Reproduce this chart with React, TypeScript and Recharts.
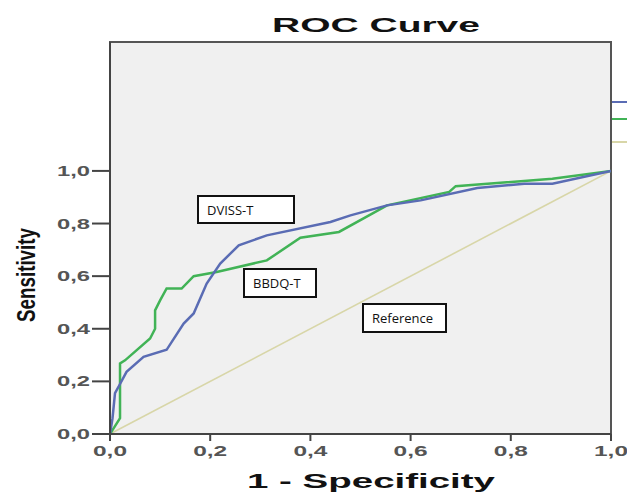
import React from "react";
import { Line, LineChart, ReferenceArea, XAxis, YAxis } from "recharts";

// 1 - specificity (x) and sensitivity (y)
const dvissX = [0, 0.005, 0.01, 0.02, 0.033, 0.067, 0.113, 0.147, 0.167, 0.193, 0.22, 0.257, 0.313, 0.44, 0.48, 0.553, 0.62, 0.733, 0.827, 0.883, 1];
const dvissY = [0, 0.06, 0.155, 0.19, 0.236, 0.293, 0.32, 0.42, 0.458, 0.572, 0.648, 0.717, 0.755, 0.806, 0.831, 0.869, 0.888, 0.935, 0.951, 0.951, 1];

const bbdqX = [0, 0.01, 0.02, 0.02, 0.03, 0.08, 0.09, 0.09, 0.1, 0.113, 0.143, 0.167, 0.213, 0.313, 0.38, 0.457, 0.553, 0.677, 0.69, 0.883, 1];
const bbdqY = [0, 0.03, 0.06, 0.268, 0.28, 0.363, 0.4, 0.47, 0.508, 0.553, 0.553, 0.6, 0.616, 0.66, 0.746, 0.768, 0.869, 0.92, 0.942, 0.97, 1];

const refX = [0, 1];
const refY = [0, 1];

const xTicks = [0, 0.2, 0.4, 0.6, 0.8, 1];
const yTicks = [0, 0.2, 0.4, 0.6, 0.8, 1];

const toPoints = (xs: number[], ys: number[]) => xs.map((x, i) => ({ x, y: ys[i] }));

const fmt = (v: number) => v.toFixed(1).replace(".", ",");

const FONT = "Liberation Sans, Arial, sans-serif";
const BLUE = "#5a6cb4";
const GREEN = "#41b356";
const TAN = "#d8d6a8";

function XTick(props: any) {
  const { x, y, payload } = props;
  return (
    <text x={x} y={y + 13} textAnchor="middle" fontFamily={FONT} fontWeight="bold" fontSize={14} fill="#555" textLength={34} lengthAdjust="spacingAndGlyphs">
      {fmt(payload.value)}
    </text>
  );
}

function YTick(props: any) {
  const { x, y, payload } = props;
  return (
    <text x={x - 2} y={y + 5} textAnchor="end" fontFamily={FONT} fontWeight="bold" fontSize={14} fill="#555" textLength={33} lengthAdjust="spacingAndGlyphs">
      {fmt(payload.value)}
    </text>
  );
}

function Tag(props: { text: string; left: number; top: number; width: number; height: number }) {
  return (
    <div
      style={{
        position: "absolute",
        left: props.left,
        top: props.top,
        width: props.width,
        height: props.height,
        boxSizing: "border-box",
        border: "2px solid #111",
        background: "#fff",
        fontFamily: "Open Sans, sans-serif",
        fontSize: 13,
        color: "#111",
        display: "flex",
        alignItems: "center",
        paddingLeft: 8,
      }}
    >
      {props.text}
    </div>
  );
}

function Stub(props: { top: number; color: string }) {
  return <div style={{ position: "absolute", left: 612, top: props.top, width: 15, height: 2, background: props.color }} />;
}

export default function App() {
  return (
    <div style={{ position: "absolute", left: 0, top: 0, width: 627, height: 495, background: "#fff", overflow: "hidden" }}>
      <LineChart width={627} height={495} data={[]} margin={{ top: 42, right: 16, left: 0, bottom: 0 }}>
        <ReferenceArea x1={0} x2={1} y1={0} y2={1.49} fill="#f0f0f0" fillOpacity={1} stroke="#555" strokeWidth={2} />
        <XAxis
          type="number"
          dataKey="x"
          domain={[0, 1]}
          ticks={xTicks}
          tick={<XTick />}
          tickSize={7}
          height={61}
          axisLine={{ stroke: "#444", strokeWidth: 2 }}
          tickLine={{ stroke: "#444", strokeWidth: 2 }}
          allowDataOverflow
        />
        <YAxis
          type="number"
          dataKey="y"
          domain={[0, 1.49]}
          ticks={yTicks}
          tick={<YTick />}
          tickSize={18}
          tickMargin={0}
          width={110}
          axisLine={{ stroke: "#444", strokeWidth: 2 }}
          tickLine={{ stroke: "#444", strokeWidth: 2 }}
          allowDataOverflow
        />
        <Line data={toPoints(refX, refY)} dataKey="y" type="linear" stroke={TAN} strokeWidth={1.6} dot={false} isAnimationActive={false} />
        <Line data={toPoints(bbdqX, bbdqY)} dataKey="y" type="linear" stroke={GREEN} strokeWidth={2.5} dot={false} isAnimationActive={false} />
        <Line data={toPoints(dvissX, dvissY)} dataKey="y" type="linear" stroke={BLUE} strokeWidth={2.5} dot={false} isAnimationActive={false} />
      </LineChart>
      <svg width={627} height={495} style={{ position: "absolute", left: 0, top: 0, pointerEvents: "none" }}>
        <text x={376} y={32} textAnchor="middle" fontFamily={FONT} fontWeight="bold" fontSize={21} fill="#111" textLength={208} lengthAdjust="spacingAndGlyphs">
          ROC Curve
        </text>
        <text x={371} y={488} textAnchor="middle" fontFamily={FONT} fontWeight="bold" fontSize={20} fill="#111" textLength={248} lengthAdjust="spacingAndGlyphs">
          1 - Specificity
        </text>
        <text
          transform="translate(35 275) rotate(-90)"
          textAnchor="middle"
          fontFamily={FONT}
          fontWeight="bold"
          fontSize={25}
          fill="#111"
          textLength={94}
          lengthAdjust="spacingAndGlyphs"
        >
          Sensitivity
        </text>
      </svg>
      <Tag text="DVISS-T" left={197} top={195} width={98} height={29} />
      <Tag text="BBDQ-T" left={243} top={268} width={74} height={30} />
      <Tag text="Reference" left={362} top={303} width={85} height={30} />
      <Stub top={101} color={BLUE} />
      <Stub top={118} color={GREEN} />
      <Stub top={141} color={TAN} />
    </div>
  );
}
